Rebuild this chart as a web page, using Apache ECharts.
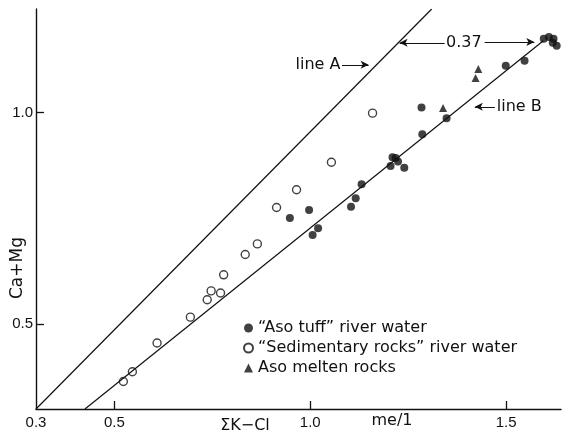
<!DOCTYPE html>
<html>
<head>
<meta charset="utf-8">
<script src="https://cdn.jsdelivr.net/npm/echarts@6/dist/echarts.min.js"></script>
<style>
html,body{margin:0;padding:0;background:#fff;}
#chart{width:566px;height:433px;}
</style>
</head>
<body>
<div id="chart"></div>
<script>
// "Aso tuff" river water (filled circles)
var tuffPoints = [
	[0.948,0.751],[0.997,0.770],[1.006,0.711],[1.020,0.727],[1.104,0.778],[1.116,0.798],
	[1.131,0.831],[1.205,0.874],[1.210,0.895],[1.218,0.893],[1.224,0.885],[1.240,0.870],
	[1.284,1.012],[1.286,0.949],[1.348,0.987],[1.499,1.111],[1.547,1.123],
	[1.596,1.175],[1.609,1.179],[1.621,1.175],[1.619,1.165],[1.629,1.158]
];
// "Sedimentary rocks" river water (open circles)
var sedPoints = [
	[0.523,0.365],[0.546,0.388],[0.609,0.456],[0.694,0.517],[0.737,0.558],[0.747,0.579],
	[0.771,0.574],[0.779,0.617],[0.834,0.665],[0.865,0.690],[0.914,0.776],[0.965,0.818],
	[1.054,0.883],[1.159,0.999]
];
// Aso melten rocks (triangles)
var meltenPoints = [[1.339,1.011],[1.422,1.082],[1.429,1.103]];

var lineA = [[0.3,0.3],[1.31,1.245]];
var lineB = [[0.425,0.3],[1.595,1.17]];

var xTicks = [0.3,0.5,1.0,1.5];
var xTickLabels = ['0.3','0.5','1.0','1.5'];
var yTicks = [0.5,1.0];
var yTickLabels = ['0.5','1.0'];

var seriesNames = ['\u201CAso tuff\u201D river water','\u201CSedimentary rocks\u201D river water','Aso melten rocks'];

var FONT = 'DejaVu Sans';
var NUMFONT = '"Liberation Sans Narrow", "Liberation Sans", sans-serif';

function tickLabel(ticks, labels){
	return function(v){
		for (var i=0;i<ticks.length;i++){
			if (Math.abs(ticks[i]-v)<1e-6) return labels[i];
		}
		return '';
	};
}

var myChart = echarts.init(document.getElementById('chart'));
var option = {
	animation: false,
	backgroundColor: '#fff',
	grid: {left:36, right:5, top:9, bottom:24},
	legend: {
		orient: 'vertical',
		left: 238, top: 315,
		itemWidth: 9, itemHeight: 9, itemGap: 4,
		data: seriesNames,
		textStyle: {fontFamily: FONT, fontSize: 16, color: '#111'}
	},
	xAxis: {
		type: 'value', min: 0.3, max: 1.64,
		splitLine: {show:false},
		axisLine: {lineStyle:{color:'#111', width:1.4}},
		axisTick: {inside:true, length:8, customValues:[0.5,1.0,1.5], lineStyle:{color:'#111', width:1.3}},
		axisLabel: {customValues: xTicks, formatter: tickLabel(xTicks, xTickLabels), margin:6,
			fontFamily: NUMFONT, fontSize: 15, color:'#111'}
	},
	yAxis: {
		type: 'value', min: 0.3, max: 1.245,
		splitLine: {show:false},
		axisLine: {lineStyle:{color:'#111', width:1.4}},
		axisTick: {inside:true, length:8, customValues: yTicks, lineStyle:{color:'#111', width:1.3}},
		axisLabel: {customValues: yTicks, formatter: tickLabel(yTicks, yTickLabels), margin:3,
			fontFamily: NUMFONT, fontSize: 15, color:'#111'}
	},
	series: [
		{type:'line', data: lineA, symbol:'none', silent:true, lineStyle:{color:'#111', width:1.2}},
		{type:'line', data: lineB, symbol:'none', silent:true, lineStyle:{color:'#111', width:1.2},
			markLine: {
				silent: true, symbol:['none','arrow'], symbolSize:[6,8],
				lineStyle:{color:'#111', width:1, type:'solid'},
				label:{show:false},
				data: [
					[{coord:[1.343,1.165]},{coord:[1.228,1.165]}],
					[{coord:[1.445,1.167]},{coord:[1.572,1.167]}],
					[{coord:[1.081,1.113]},{coord:[1.149,1.113]}],
					[{coord:[1.471,1.014]},{coord:[1.420,1.014]}]
				]
			}
		},
		{name: seriesNames[0], type:'scatter', data: tuffPoints, symbol:'circle', symbolSize:8,
			itemStyle:{color:'#111'}},
		{name: seriesNames[1], type:'scatter', data: sedPoints, symbol:'circle', symbolSize:8,
			itemStyle:{color:'#fff', borderColor:'#111', borderWidth:1.4}},
		{name: seriesNames[2], type:'scatter', data: meltenPoints, symbol:'triangle', symbolSize:8,
			itemStyle:{color:'#111'}}
	]
};
myChart.setOption(option);

// annotations placed in data space
var notes = [
	{text:'0.37', at:[1.392,1.165], align:'center'},
	{text:'line A', at:[1.077,1.113], align:'right'},
	{text:'line B', at:[1.476,1.014], align:'left'}
];
var graphics = [];
for (var i=0;i<notes.length;i++){
	var p = myChart.convertToPixel({gridIndex:0}, notes[i].at);
	graphics.push({type:'text', x:p[0], y:p[1], style:{text:notes[i].text, fill:'#111',
		font:'16px ' + FONT, align:notes[i].align, verticalAlign:'middle'}});
}
graphics.push({type:'text', x:18, y:268, rotation:Math.PI/2, style:{text:'Ca+Mg', fill:'#111',
	font:'17px ' + FONT, align:'center', verticalAlign:'middle'}});
graphics.push({type:'text', x:245, y:426, style:{text:'\u03A3K\u2212Cl', fill:'#111',
	font:'16px ' + FONT, align:'center', verticalAlign:'middle'}});
graphics.push({type:'text', x:392, y:421, style:{text:'me/1', fill:'#111',
	font:'16px ' + FONT, align:'center', verticalAlign:'middle'}});
myChart.setOption({graphic: graphics});
</script>
</body>
</html>
